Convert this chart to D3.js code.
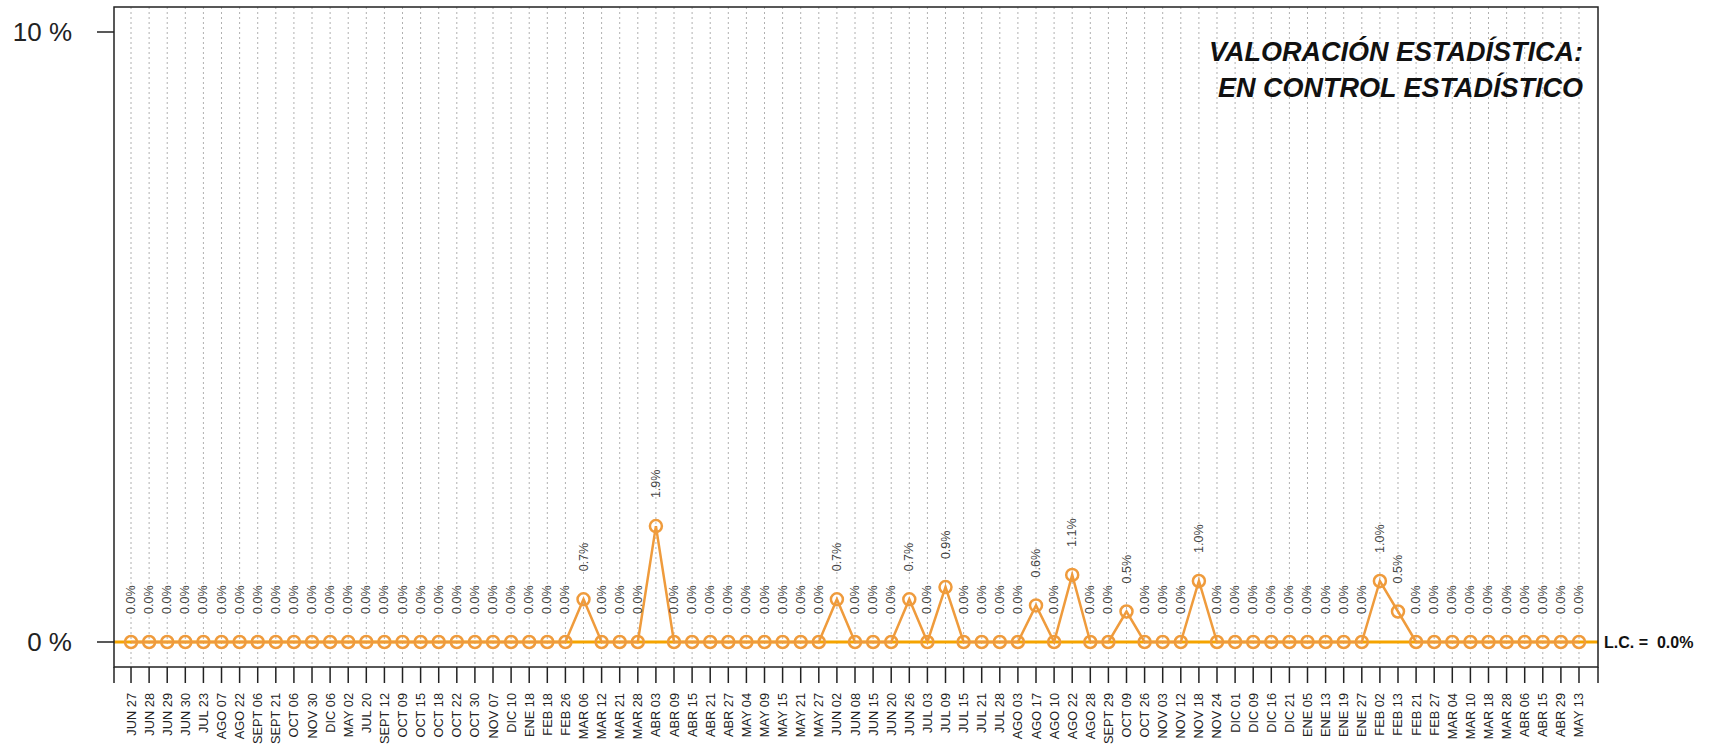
<!DOCTYPE html>
<html>
<head>
<meta charset="utf-8">
<script src="https://cdn.jsdelivr.net/npm/d3@7"></script>
<style>
  body { margin: 0; background: #fff; }
  svg { display: block; font-family: "Liberation Sans", Arial, sans-serif; }
</style>
</head>
<body>
<svg id="chart" width="1717" height="746"></svg>
<script>
// fechas de cada muestra
var fechas = ["JUN 27","JUN 28","JUN 29","JUN 30","JUL 23","AGO 07","AGO 22","SEPT 06","SEPT 21","OCT 06",
  "NOV 30","DIC 06","MAY 02","JUL 20","SEPT 12","OCT 09","OCT 15","OCT 18","OCT 22","OCT 30",
  "NOV 07","DIC 10","ENE 18","FEB 18","FEB 26","MAR 06","MAR 12","MAR 21","MAR 28","ABR 03",
  "ABR 09","ABR 15","ABR 21","ABR 27","MAY 04","MAY 09","MAY 15","MAY 21","MAY 27","JUN 02",
  "JUN 08","JUN 15","JUN 20","JUN 26","JUL 03","JUL 09","JUL 15","JUL 21","JUL 28","AGO 03",
  "AGO 17","AGO 10","AGO 22","AGO 28","SEPT 29","OCT 09","OCT 26","NOV 03","NOV 12","NOV 18",
  "NOV 24","DIC 01","DIC 09","DIC 16","DIC 21","ENE 05","ENE 13","ENE 19","ENE 27","FEB 02",
  "FEB 13","FEB 21","FEB 27","MAR 04","MAR 10","MAR 18","MAR 28","ABR 06","ABR 15","ABR 29","MAY 13"];

// porcentaje por fecha (la mayoria 0)
var valores = [0,0,0,0,0,0,0,0,0,0,
  0,0,0,0,0,0,0,0,0,0,
  0,0,0,0,0,0.7,0,0,0,1.9,
  0,0,0,0,0,0,0,0,0,0.7,
  0,0,0,0.7,0,0.9,0,0,0,0,
  0.6,0,1.1,0,0,0.5,0,0,0,1.0,
  0,0,0,0,0,0,0,0,0,1.0,
  0.5,0,0,0,0,0,0,0,0,0,0];

var yTicks = [0, 10];
var lineaCentral = 0.0;
var titulo = ["VALORACIÓN ESTADÍSTICA:", "EN CONTROL ESTADÍSTICO"];

var naranja = "#ef9b3c";
var amarillo = "#f5a400";

var svg = d3.select("#chart");
// bordes del marco (ojo: "top" choca con window.top)
var mIzq = 114, mDer = 1598, mSup = 7, mInf = 667;

var x = d3.scaleLinear().domain([-0.94, fechas.length - 1 + 1.05]).range([mIzq, mDer]);
var y = d3.scaleLinear().domain([0, 10]).range([642, 32]);

// rejilla vertical punteada
svg.append("g")
  .selectAll("line")
  .data(fechas)
  .enter().append("line")
  .attr("x1", function(d, i) { return x(i); })
  .attr("x2", function(d, i) { return x(i); })
  .attr("y1", mSup)
  .attr("y2", mInf)
  .attr("stroke", "#b0b0b0")
  .attr("stroke-width", 1)
  .attr("stroke-dasharray", "2,3");

// linea central
svg.append("line")
  .attr("x1", mIzq).attr("x2", mDer)
  .attr("y1", y(lineaCentral)).attr("y2", y(lineaCentral))
  .attr("stroke", amarillo)
  .attr("stroke-width", 3);

// serie
var linea = d3.line()
  .x(function(d, i) { return x(i); })
  .y(function(d) { return y(d); });

svg.append("path")
  .datum(valores)
  .attr("d", linea)
  .attr("fill", "none")
  .attr("stroke", naranja)
  .attr("stroke-width", 2.5);

svg.append("g")
  .selectAll("circle")
  .data(valores)
  .enter().append("circle")
  .attr("cx", function(d, i) { return x(i); })
  .attr("cy", function(d) { return y(d); })
  .attr("r", 6)
  .attr("fill", "none")
  .attr("stroke", naranja)
  .attr("stroke-width", 2.5);

// etiquetas de valor
svg.append("g")
  .selectAll("text")
  .data(valores)
  .enter().append("text")
  .attr("transform", function(d, i) { return "translate(" + x(i) + "," + (y(d) - 28) + ") rotate(-90)"; })
  .attr("dominant-baseline", "central")
  .attr("font-size", "12.5px")
  .attr("fill", "#444")
  .text(function(d) { return d.toFixed(1) + "%"; });

// marco
svg.append("rect")
  .attr("x", mIzq).attr("y", mSup)
  .attr("width", mDer - mIzq).attr("height", mInf - mSup)
  .attr("fill", "none")
  .attr("stroke", "#222")
  .attr("stroke-width", 1.5);

// eje y
var ejeY = svg.append("g");
ejeY.selectAll("line")
  .data(yTicks)
  .enter().append("line")
  .attr("x1", 97).attr("x2", mIzq)
  .attr("y1", function(d) { return y(d); })
  .attr("y2", function(d) { return y(d); })
  .attr("stroke", "#222")
  .attr("stroke-width", 1.5);
ejeY.selectAll("text")
  .data(yTicks)
  .enter().append("text")
  .attr("x", 72)
  .attr("y", function(d) { return y(d); })
  .attr("dominant-baseline", "central")
  .attr("text-anchor", "end")
  .attr("font-size", "26px")
  .attr("fill", "#222")
  .text(function(d) { return d + " %"; });

// eje x: marcas en los bordes y en cada fecha
var marcas = [-0.94].concat(d3.range(fechas.length)).concat([fechas.length - 1 + 1.05]);
svg.append("g")
  .selectAll("line")
  .data(marcas)
  .enter().append("line")
  .attr("x1", function(d) { return x(d); })
  .attr("x2", function(d) { return x(d); })
  .attr("y1", mInf)
  .attr("y2", 683)
  .attr("stroke", "#222")
  .attr("stroke-width", 1.5);

svg.append("g")
  .selectAll("text")
  .data(fechas)
  .enter().append("text")
  .attr("transform", function(d, i) { return "translate(" + x(i) + ",693) rotate(-90)"; })
  .attr("text-anchor", "end")
  .attr("dominant-baseline", "central")
  .attr("font-size", "12.8px")
  .attr("fill", "#222")
  .text(function(d) { return d; });

// titulo de valoracion
svg.append("g")
  .selectAll("text")
  .data(titulo)
  .enter().append("text")
  .attr("x", 1583)
  .attr("y", function(d, i) { return 61 + i * 36; })
  .attr("text-anchor", "end")
  .attr("font-size", "27px")
  .attr("font-weight", "bold")
  .attr("font-style", "italic")
  .attr("fill", "#111")
  .text(function(d) { return d; });

// etiqueta linea central
svg.append("text")
  .attr("x", mDer + 6)
  .attr("y", y(lineaCentral))
  .attr("dominant-baseline", "central")
  .attr("font-size", "16px")
  .attr("font-weight", "bold")
  .attr("fill", "#111")
  .attr("xml:space", "preserve")
  .text("L.C. =  " + lineaCentral.toFixed(1) + "%");
</script>
</body>
</html>
